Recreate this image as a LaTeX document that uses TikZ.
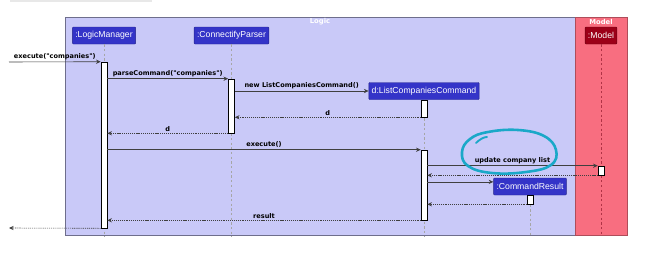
\documentclass[tikz,border=0pt]{standalone}
\usepackage{fontspec}
\setmainfont{Liberation Sans}
\newfontfamily\labelfont{DejaVu Sans}
\usetikzlibrary{arrows.meta}

\definecolor{logicbg}{HTML}{C9C9F8}
\definecolor{logicline}{HTML}{6E6E8C}
\definecolor{logicbox}{HTML}{3434C8}
\definecolor{modelbg}{HTML}{F86E80}
\definecolor{modelbox}{HTML}{9C0018}
\definecolor{penmark}{HTML}{1AA8C8}

\tikzset{
 frame/.style={draw=logicline, line width=0.6pt},
 frametitle/.style={text=white, font=\labelfont\fontsize{5.8}{6}\selectfont\bfseries},
 actor/.style={fill=logicbox, draw=logicbox!70!black, text=white, rounded corners=0.8pt,
   font=\fontsize{7.4}{8}\selectfont, inner xsep=2.5pt, minimum height=0.51cm},
 act/.style={draw=black, fill=white, line width=0.5pt, minimum width=0.18cm, inner sep=0pt},
 lifeline/.style={draw=gray!70, dash pattern=on 2pt off 2pt, line width=0.4pt},
 msg/.style={draw=black!75, line width=0.5pt, -{Stealth[length=4pt,width=3.6pt,inset=1.3pt]}},
 ret/.style={msg, dash pattern=on 1pt off 0.8pt},
 lbl/.style={font=\labelfont\fontsize{5.6}{6}\selectfont\bfseries, above, inner sep=1.6pt}
}

\begin{document}
\begin{tikzpicture}[x=0.03cm, y=-0.03cm]
\useasboundingbox (0,0) rectangle (653,253);

% top strip
\fill[gray!18] (10,0) rectangle (152,2);

% frames
\filldraw[frame, fill=logicbg] (65,17) rectangle (575,235);
\filldraw[frame, draw=modelbg!70!black, fill=modelbg] (575,17) rectangle (627,235);
\node[frametitle] (logictitle) at (320,22) {Logic};
\node[frametitle] (modeltitle) at (601,22) {Model};

\coordinate (bottom) at (0,237);

% participants
\node[actor] (lm) at (104,35.5) {:LogicManager};
\node[actor] (cp) at (231.5,35.5) {:ConnectifyParser};
\node[actor, fill=modelbox, draw=modelbox!70!black] (model) at (601,35.5) {:Model};
\node[actor] (lcc) at (424,91) {d:ListCompaniesCommand};
\node[actor] (cr) at (530,186.5) {:CommandResult};

% lifelines
\draw[lifeline] (lm.south) -- (lm.south |- bottom);
\draw[lifeline] (cp.south) -- (cp.south |- bottom);
\draw[lifeline, draw=modelbox!80] (model.south) -- (model.south |- 0,235);
\draw[lifeline] (lcc.south) -- (lcc.south |- bottom);
\draw[lifeline] (cr.south) -- (cr.south |- bottom);

% activations
\node[act, minimum height=4.98cm] (lmAct) at (104,145) {};
\node[act, minimum height=1.62cm] (cpAct) at (231.5,106) {};
\node[act, minimum height=0.51cm] (lccAct1) at (424,108.5) {};
\node[act, minimum height=2.1cm] (lccAct2) at (424,185) {};
\node[act, minimum height=0.27cm] (mAct) at (601,170.5) {};
\node[act, minimum height=0.27cm] (crAct) at (530,199.5) {};

\coordinate (caller) at (9,62);
\coordinate (back) at (9,228);
\coordinate (crIn) at ([yshift=-3.5pt]cr.north west);

% messages
\draw[msg] (caller) -- (lmAct.north west) node[lbl, midway] {execute("companies")};
\draw[msg] (lmAct.east |- cpAct.north) -- (cpAct.north west) node[lbl, midway] {parseCommand("companies")};
\draw[msg] (cpAct.east |- lcc.west) -- (lcc.west) node[lbl, midway] {new ListCompaniesCommand()};
\draw[ret] (lccAct1.south west) -- (cpAct.east |- lccAct1.south) node[lbl, midway] {d};
\draw[ret] (cpAct.south west) -- (lmAct.east |- cpAct.south) node[lbl, midway] {d};
\draw[msg] (lmAct.east |- lccAct2.north) -- (lccAct2.north west) node[lbl, midway] {execute()};
\draw[msg] (lccAct2.east |- mAct.north) -- (mAct.north west) node[lbl, midway] {update company list};
\draw[ret] (mAct.south west) -- (lccAct2.east |- mAct.south);
\draw[msg] (lccAct2.east |- crIn) -- (crIn);
\draw[ret] (crAct.south west) -- (lccAct2.east |- crAct.south);
\draw[ret] (lccAct2.south west) -- (lmAct.east |- lccAct2.south) node[lbl, midway] {result};
\draw[ret] (lmAct.south west) -- (back);

% pen mark round the update call
\draw[penmark, line width=2.2pt, line cap=round, line join=round]
  plot[smooth cycle, tension=0.7] coordinates {(470,139) (488,132) (518,130) (544,136) (556,150)
   (551,165) (526,172) (492,173) (468,166) (462,152)};
\draw[penmark, line width=1.6pt, line cap=round] (476,143) .. controls (480,139) and (484,137) .. (487,137);
\end{tikzpicture}
\end{document}
